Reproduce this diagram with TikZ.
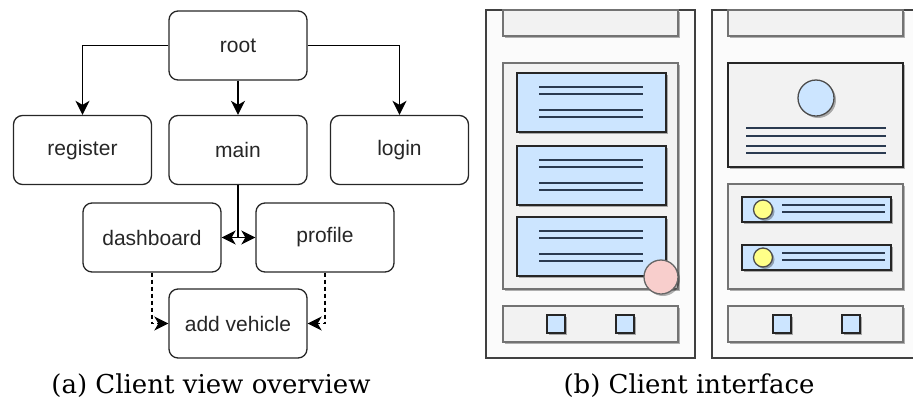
\documentclass[tikz,border=0pt]{standalone}
\usepackage{fontspec}
\setsansfont{Liberation Sans}
\newfontfamily\capfont{DejaVu Serif}
\usetikzlibrary{arrows.meta,shadows}

\definecolor{cardblue}{HTML}{CCE5FF}
\definecolor{fabpink}{HTML}{F8CECC}
\definecolor{dotyellow}{HTML}{FFFF88}
\definecolor{panelgray}{HTML}{F2F2F2}
\definecolor{txtgray}{HTML}{2A3A50}

\begin{document}
\begin{tikzpicture}[
    x=1pt, y=-1pt,
    view/.style={
        draw=black!85,
        rounded corners=9pt,
        line width=1.3pt,
        minimum width=138pt,
        minimum height=69pt,
        text=black!85,
        font=\sffamily\fontsize{21}{24}\selectfont
    },
    link/.style={-{Stealth[length=14pt,width=14pt,inset=4pt]}, line width=1.5pt},
    optlink/.style={link, dash pattern=on 4pt off 3pt},
    caption/.style={font=\capfont\fontsize{26}{30}\selectfont, inner sep=0pt},
    shade/.style={drop shadow={shadow xshift=2pt, shadow yshift=-2pt, opacity=0.3, fill=black}},
    frame/.style={draw=black!75, line width=1.8pt, fill=gray!3},
    panel/.style={draw=black!55, line width=1.2pt, fill=panelgray, shade},
    card/.style={draw=black!85, line width=1.3pt, fill=cardblue, shade},
    txtline/.style={draw=txtgray, line width=1.4pt}
]
\useasboundingbox (0,0) rectangle (913,408);

% Left: view overview
\node[view] (root) at (238,45.5) {root};
\node[view] (register) at (82.5,150) {register};
\node[view] (main) at (238,150) {main};
\node[view] (login) at (399.5,150) {login};
\node[view] (dashboard) at (152,237.5) {dashboard};
\node[view] (profile) at (325,237.5) {profile};
\node[view] (addvehicle) at (238,323.5) {add vehicle};
\coordinate (split) at (238,237.5);

\draw[link] (root.west) -| (register.north);
\draw[link] (root) -- (main);
\draw[link] (root.east) -| (login.north);
\draw[line width=1.5pt] (main) -- (split);
\draw[link] (split) -- (dashboard.east);
\draw[link] (split) -- (profile.west);
\draw[optlink] (dashboard.south) |- (addvehicle.west);
\draw[optlink] (profile.south) |- (addvehicle.east);

% Right: list screen
\draw[frame] (486,10) rectangle (695,358);
\draw[panel] (503,10) rectangle (678,36);
\draw[panel] (503,63) rectangle (678,289);
\foreach \t in {73,146,217} {
    \draw[card] (517,\t) rectangle (666,\t+59);
    \foreach \d in {14,21,37,44}
        \draw[txtline] (539,\t+\d) -- (643,\t+\d);
}
\draw[card, fill=fabpink, draw=black!60] (661,277) circle[radius=17pt];
\draw[panel] (503,306) rectangle (678,342);
\foreach \x in {547,616}
    \draw[card] (\x,315) rectangle (\x+18,333);

% Right: profile screen
\draw[frame] (930,10) -| (712,358) -| cycle;
\draw[panel] (728,10) rectangle (903,36);
\draw[panel, draw=black!85] (728,63) rectangle (903,167);
\draw[card, draw=black!70] (816,98) circle[radius=18pt];
\foreach \y in {128,136,146,153}
    \draw[txtline] (746,\y) -- (886,\y);
\draw[panel] (728,184) rectangle (903,289);
\foreach \t in {197,245} {
    \draw[card] (742,\t) rectangle (891,\t+25);
    \draw[card, fill=dotyellow, draw=black!70] (763,\t+12.5) circle[radius=9.5pt];
    \foreach \d in {8,15}
        \draw[txtline] (782,\t+\d) -- (885,\t+\d);
}
\draw[panel] (728,306) rectangle (903,342);
\foreach \x in {773,842}
    \draw[card] (\x,315) rectangle (\x+18,333);

% Captions
\node[caption] (capa) at (211,386) {(a) Client view overview};
\node[caption] (capb) at (689,386) {(b) Client interface};
\end{tikzpicture}
\end{document}
